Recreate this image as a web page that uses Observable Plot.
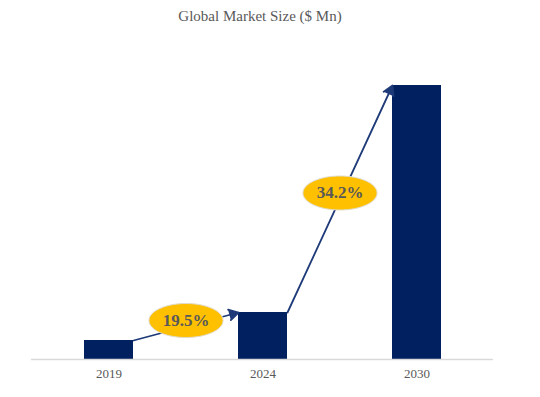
<!DOCTYPE html>
<html>
<head>
<meta charset="utf-8">
<script src="https://cdn.jsdelivr.net/npm/d3@7"></script>
<script src="https://cdn.jsdelivr.net/npm/@observablehq/plot@0.6"></script>
<style>
  html, body { margin: 0; padding: 0; background: #fff; }
  #title { width: 520px; height: 32px; line-height: 32px; text-align: center;
    font-family: "Liberation Serif", "Times New Roman", serif; font-size: 15px; color: #595959; }
  svg { display: block; }
</style>
</head>
<body>
<div id="title">Global Market Size ($ Mn)</div>
<div id="chart"></div>
<script>
const years = ["2019", "2024", "2030"];
const marketSize = [19, 47, 274];
const cagrFrom = ["2019", "2024"];
const cagrTo = ["2024", "2030"];
const cagrLabels = ["19.5%", "34.2%"];

const bars = years.map((y, i) => ({year: y, value: marketSize[i]}));
const arrows = cagrFrom.map((f, i) => ({
  from: f,
  to: cagrTo[i],
  v1: marketSize[years.indexOf(f)],
  v2: marketSize[years.indexOf(cagrTo[i])],
  label: cagrLabels[i]
}));

function bw(x) { return typeof x.bandwidth === "function" ? x.bandwidth() : x.bandwidth; }
// scales.x returns the band centre here; move to the bar edges
function arrowEnds(d, scales) {
  const x = scales.x, y = scales.y, h = bw(x) / 2;
  return {x1: x(d.from) + h, x2: x(d.to) - h, y1: y(d.v1), y2: y(d.v2)};
}
function arrowRender(index, scales, values, dimensions, context, next) {
  const X1 = new Float64Array(arrows.length), X2 = new Float64Array(arrows.length);
  const Y1 = new Float64Array(arrows.length), Y2 = new Float64Array(arrows.length);
  for (const i of index) {
    const e = arrowEnds(arrows[i], scales);
    X1[i] = e.x1; X2[i] = e.x2; Y1[i] = e.y1; Y2[i] = e.y2;
  }
  return next(index, scales, {...values, x1: X1, x2: X2, y1: Y1, y2: Y2}, dimensions, context);
}
function midRender(index, scales, values, dimensions, context, next) {
  const X = new Float64Array(arrows.length), Y = new Float64Array(arrows.length);
  for (const i of index) {
    const e = arrowEnds(arrows[i], scales);
    X[i] = (e.x1 + e.x2) / 2; Y[i] = (e.y1 + e.y2) / 2 - 6;
  }
  return next(index, scales, {...values, x: X, y: Y}, dimensions, context);
}

const ellipse = {
  draw(ctx, size) {
    const r = Math.sqrt(size / Math.PI), rx = r * 2.18, ry = r, k = 0.5523;
    ctx.moveTo(rx, 0);
    ctx.bezierCurveTo(rx, ry * k, rx * k, ry, 0, ry);
    ctx.bezierCurveTo(-rx * k, ry, -rx, ry * k, -rx, 0);
    ctx.bezierCurveTo(-rx, -ry * k, -rx * k, -ry, 0, -ry);
    ctx.bezierCurveTo(rx * k, -ry, rx, -ry * k, rx, 0);
    ctx.closePath();
  }
};

const chart = Plot.plot({
  width: 540,
  height: 365,
  marginTop: 53,
  marginBottom: 38,
  marginLeft: 31,
  marginRight: 47,
  style: {fontFamily: "'Liberation Serif', 'Times New Roman', serif", background: "#fff"},
  x: {domain: years, paddingInner: 0.685, paddingOuter: 0.3425, label: null},
  y: {domain: [0, 274], axis: null},
  marks: [
    Plot.barY(bars, {x: "year", y: "value", fill: "#002060"}),
    Plot.ruleY([0], {stroke: "#d9d9d9", strokeWidth: 1.5}),
    Plot.axisX({tickSize: 0, tickPadding: 9, fontSize: 13, color: "#595959", label: null}),
    Plot.arrow(arrows, {x1: "from", x2: "to", y1: "v1", y2: "v2", stroke: "#1f3a78", fill: "#1f3a78",
      strokeWidth: 1.8, headLength: 9, render: arrowRender}),
    Plot.dot(arrows, {x: "from", y: "v1", r: 17, symbol: ellipse, fill: "#ffc000", stroke: "#e0dccf",
      strokeWidth: 1, render: midRender}),
    Plot.text(arrows, {x: "from", y: "v1", text: "label", fontSize: 17, fontWeight: "bold",
      fill: "#595959", render: midRender})
  ]
});
document.getElementById("chart").appendChild(chart);
</script>
</body>
</html>
